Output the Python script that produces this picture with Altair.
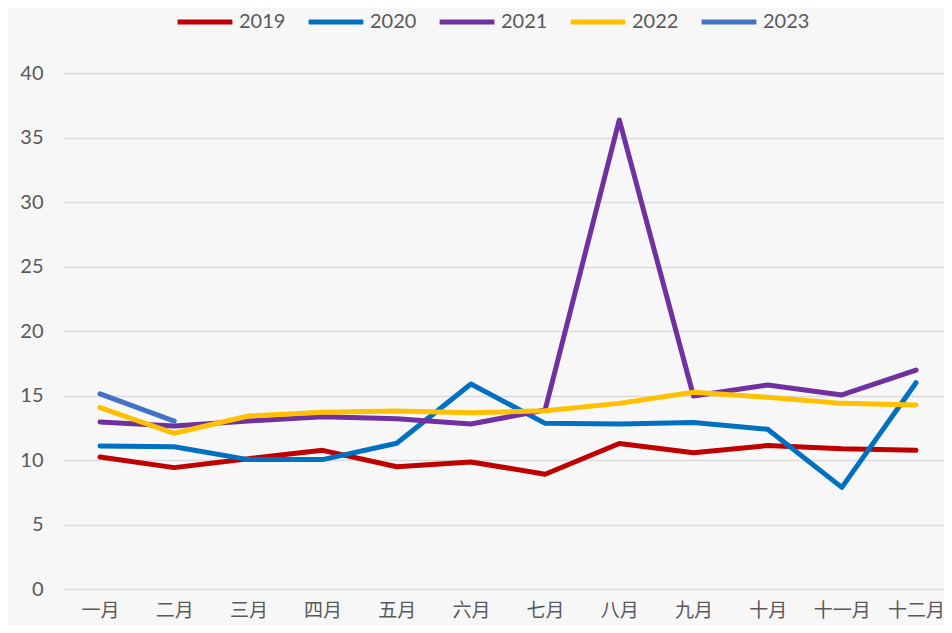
import json
import altair as alt
import pandas as pd

months = ["一月", "二月", "三月", "四月", "五月", "六月", "七月", "八月", "九月", "十月", "十一月", "十二月"]
years = ["2019", "2020", "2021", "2022", "2023"]
colors = ["#C00000", "#0070C0", "#7030A0", "#FFC000", "#4472C4"]

v2019 = [10.23, 9.41, 10.1, 10.75, 9.48, 9.85, 8.9, 11.28, 10.56, 11.12, 10.87, 10.76]
v2020 = [11.09, 11.03, 10.03, 10.03, 11.3, 15.89, 12.84, 12.8, 12.9, 12.38, 7.88, 15.99]
v2021 = [12.95, 12.64, 13.02, 13.36, 13.2, 12.79, 13.88, 36.36, 14.96, 15.81, 15.04, 16.97]
v2022 = [14.06, 12.07, 13.41, 13.7, 13.8, 13.67, 13.82, 14.39, 15.25, 14.86, 14.39, 14.26]
v2023 = [15.12, 13.02]

series = {"2019": v2019, "2020": v2020, "2021": v2021, "2022": v2022, "2023": v2023}
rows = []
for y in years:
    for i, v in enumerate(series[y]):
        rows.append({"year": y, "idx": i + 1, "month": months[i], "value": v})
df = pd.DataFrame(rows)

label_expr = json.dumps(months, ensure_ascii=False) + "[datum.value - 1]"

chart = alt.Chart(df).mark_line(strokeWidth=5, strokeCap="round", strokeJoin="round").encode(
    x=alt.X("idx:Q",
            scale=alt.Scale(domain=[0.501, 12.377], nice=False, zero=False),
            axis=alt.Axis(title=None, values=list(range(1, 13)), labelExpr=label_expr,
                          grid=False, domain=False, ticks=False, labelPadding=12,
                          labelFont="Noto Sans CJK SC", labelFontSize=19,
                          labelColor="#595959", labelFlush=False, labelOverlap=False)),
    y=alt.Y("value:Q",
            scale=alt.Scale(domain=[0, 40], nice=False),
            axis=alt.Axis(title=None, values=[0, 5, 10, 15, 20, 25, 30, 35, 40],
                          grid=True, gridColor="#d9d9d9", gridWidth=1.5,
                          domain=False, ticks=False, labelPadding=20,
                          labelFont="Lato", labelFontSize=20, labelColor="#595959")),
    color=alt.Color("year:N",
                    scale=alt.Scale(domain=years, range=colors),
                    legend=alt.Legend(title=None, orient="none", direction="horizontal",
                                      legendX=112, legendY=-81,
                                      symbolType="stroke", symbolSize=3000,
                                      symbolStrokeWidth=5, labelFont="Lato",
                                      labelFontSize=20, labelColor="#595959",
                                      columnPadding=12, labelOffset=4)),
    order=alt.Order("idx:Q"),
).properties(
    width=881,
    height=516,
    background="#f7f7f7",
    autosize=alt.AutoSizeParams(type="none"),
    padding={"left": 55, "top": 65, "right": 0, "bottom": 36},
).configure_view(stroke=None)

chart.save("out.html", embed_options={"renderer": "svg", "actions": False})
